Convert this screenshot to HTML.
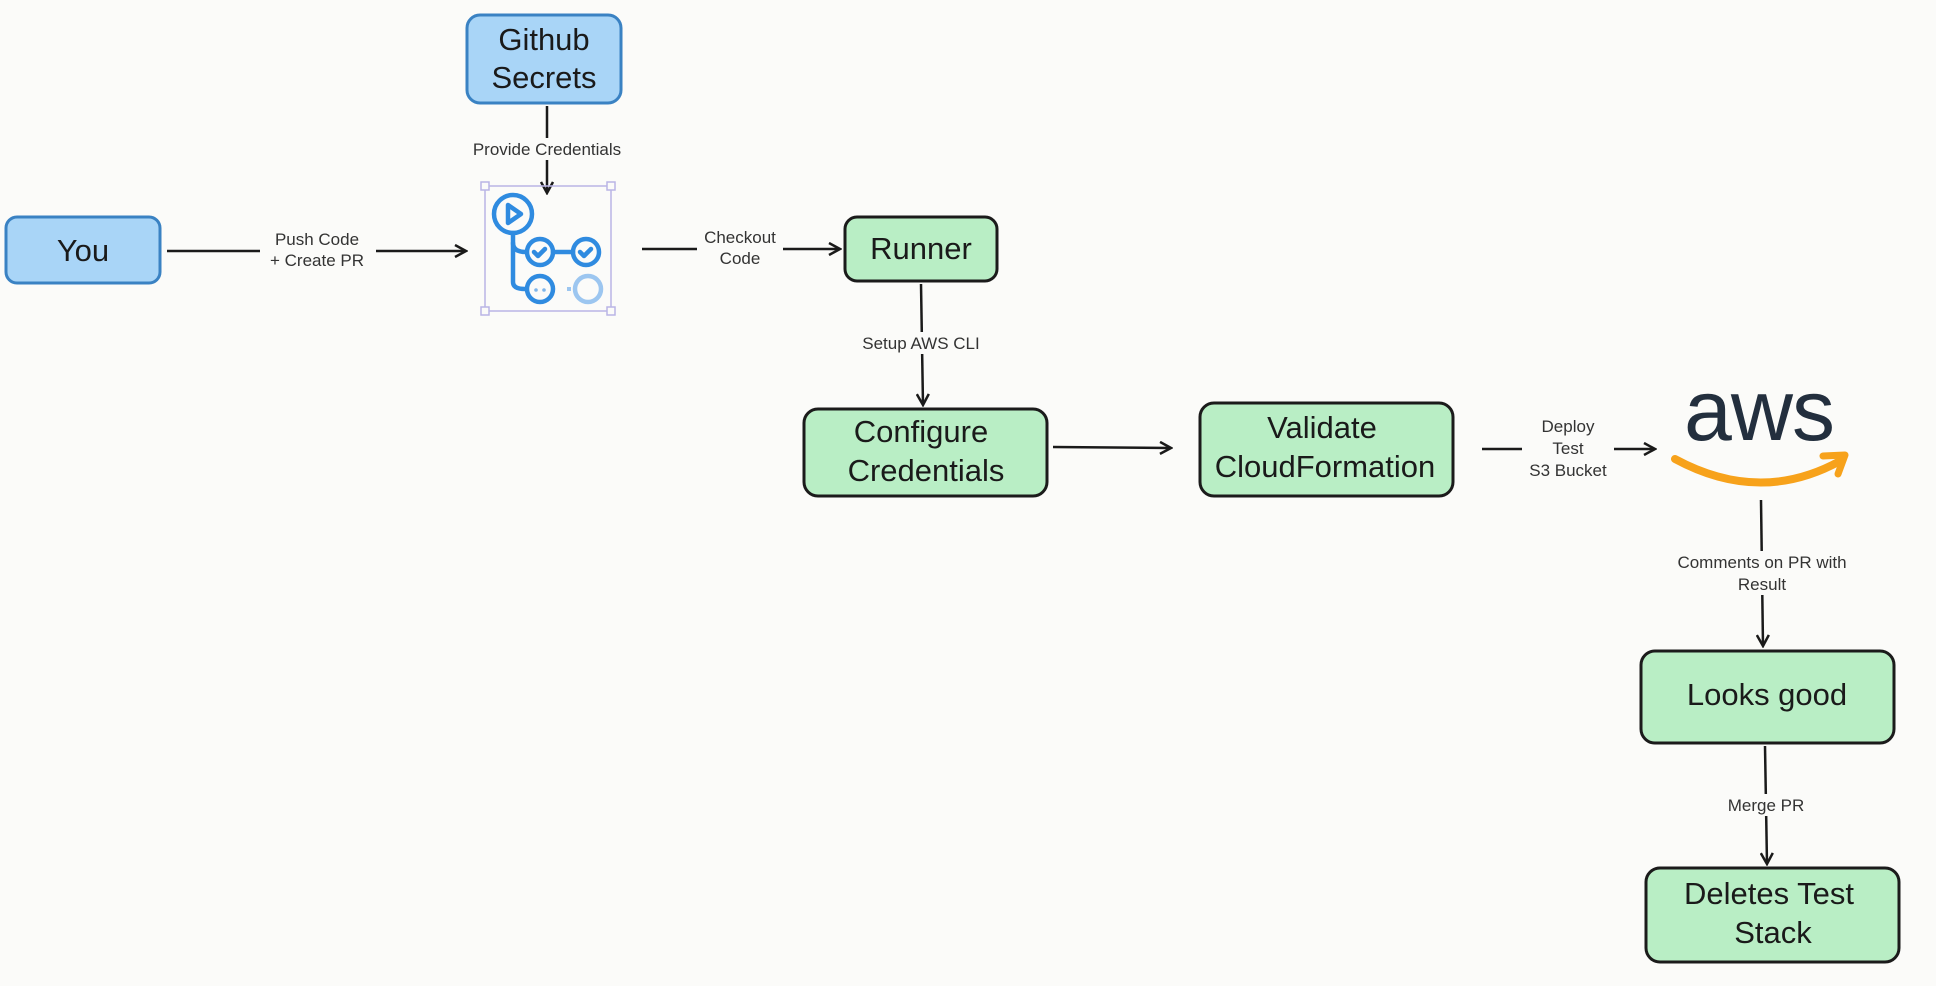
<!DOCTYPE html>
<html><head><meta charset="utf-8"><style>
html,body{margin:0;padding:0;background:#fbfbf9;}
svg{display:block;font-family:"Liberation Sans",Arial,sans-serif;}
.box{stroke-width:3}
.g{fill:#b9eec5;stroke:#1b1b1b}
.b{fill:#a9d5f7;stroke:#3a82c3}
.t{font-size:31px;fill:#1a1a1a;text-anchor:middle}
.l{font-size:17px;fill:#333;text-anchor:middle}
.ln{stroke:#1a1a1a;stroke-width:2.5;fill:none}
.lb{fill:#fbfbf9}
</style></head><body>
<svg width="1936" height="986" viewBox="0 0 1936 986">
<defs><marker id="a" markerWidth="14" markerHeight="14" refX="12" refY="7" orient="auto" markerUnits="userSpaceOnUse"><path d="M1,1 L12,7 L1,13" fill="none" stroke="#1a1a1a" stroke-width="2.5"/></marker></defs>

<!-- connectors -->
<line class="ln" x1="167" y1="251" x2="466" y2="251" marker-end="url(#a)"/>
<rect class="lb" x="260" y="228" width="116" height="44"/>
<text class="l" x="317" y="245">Push Code</text><text class="l" x="317" y="266">+ Create PR</text>

<line class="ln" x1="547" y1="106" x2="547" y2="193" marker-end="url(#a)"/>
<rect class="lb" x="465" y="138" width="164" height="22"/>
<text class="l" x="547" y="155">Provide Credentials</text>

<line class="ln" x1="642" y1="249" x2="840" y2="249" marker-end="url(#a)"/>
<rect class="lb" x="697" y="226" width="86" height="44"/>
<text class="l" x="740" y="243">Checkout</text><text class="l" x="740" y="264">Code</text>

<line class="ln" x1="921" y1="284" x2="923" y2="405" marker-end="url(#a)"/>
<rect class="lb" x="855" y="332" width="132" height="22"/>
<text class="l" x="921" y="349">Setup AWS CLI</text>

<line class="ln" x1="1053" y1="447" x2="1171" y2="448" marker-end="url(#a)"/>

<line class="ln" x1="1482" y1="449" x2="1655" y2="449" marker-end="url(#a)"/>
<rect class="lb" x="1522" y="416" width="92" height="66"/>
<text class="l" x="1568" y="432">Deploy</text><text class="l" x="1568" y="454">Test</text><text class="l" x="1568" y="476">S3 Bucket</text>

<line class="ln" x1="1761" y1="500" x2="1763" y2="646" marker-end="url(#a)"/>
<rect class="lb" x="1664" y="551" width="196" height="44"/>
<text class="l" x="1762" y="568">Comments on PR with</text><text class="l" x="1762" y="590">Result</text>

<line class="ln" x1="1765" y1="746" x2="1767" y2="864" marker-end="url(#a)"/>
<rect class="lb" x="1720" y="794" width="92" height="22"/>
<text class="l" x="1766" y="811">Merge PR</text>

<!-- nodes -->
<rect class="box b" x="6" y="217" width="154" height="66" rx="11"/>
<text class="t" x="83" y="261">You</text>

<rect class="box b" x="467" y="15" width="154" height="88" rx="13"/>
<text class="t" x="544" y="50">Github</text><text class="t" x="544" y="88">Secrets</text>

<rect class="box g" x="845" y="217" width="152" height="64" rx="12"/>
<text class="t" x="921" y="259">Runner</text>

<rect class="box g" x="804" y="409" width="243" height="87" rx="14"/>
<text class="t" x="921" y="442">Configure</text><text class="t" x="926" y="481">Credentials</text>

<rect class="box g" x="1200" y="403" width="253" height="93" rx="14"/>
<text class="t" x="1322" y="438">Validate</text><text class="t" x="1325" y="477">CloudFormation</text>

<rect class="box g" x="1641" y="651" width="253" height="92" rx="14"/>
<text class="t" x="1767" y="705">Looks good</text>

<rect class="box g" x="1646" y="868" width="253" height="94" rx="14"/>
<text class="t" x="1769" y="904">Deletes Test</text><text class="t" x="1773" y="943">Stack</text>

<!-- github actions icon -->
<rect x="485" y="186" width="126" height="125" fill="none" stroke="#b9b5e6" stroke-width="1.5"/>
<g fill="#fbfbf9" stroke="#b9b5e6" stroke-width="1.5">
<rect x="481" y="182" width="8" height="8"/><rect x="607" y="182" width="8" height="8"/>
<rect x="481" y="307" width="8" height="8"/><rect x="607" y="307" width="8" height="8"/></g>
<g fill="none" stroke="#2f8be0" stroke-width="4.5" stroke-linecap="round" stroke-linejoin="round">
<circle cx="513" cy="214" r="19"/>
<path d="M508,205 L521,214 L508,223 Z"/>
<path d="M513,233 L513,282 Q513,289 525,289"/>
<path d="M513,243 Q513,252 526,252"/>
<circle cx="540" cy="252" r="13"/><circle cx="586" cy="252" r="13"/>
<line x1="553" y1="252" x2="573" y2="252"/>
<circle cx="540" cy="289" r="13"/>
<path d="M534,252 l4,4 l7,-7"/><path d="M580,252 l4,4 l7,-7"/>
</g>
<circle cx="536" cy="290" r="1.8" fill="#7fb5ea"/><circle cx="544" cy="290" r="1.8" fill="#7fb5ea"/>
<circle cx="588" cy="289" r="13" fill="none" stroke="#9cc6f0" stroke-width="4.5"/>
<line x1="567" y1="289" x2="571" y2="289" stroke="#9cc6f0" stroke-width="4"/>

<!-- aws logo -->
<text x="1759" y="440" text-anchor="middle" style="font-size:86px;fill:#232f3e;font-family:'Liberation Sans',sans-serif;letter-spacing:-1px">aws</text>
<path d="M1675,459 Q1760,505 1840,461" fill="none" stroke="#f7a21b" stroke-width="8" stroke-linecap="round"/>
<path d="M1823,456 L1845,455 L1838,474" fill="none" stroke="#f7a21b" stroke-width="7" stroke-linecap="round" stroke-linejoin="round"/>
</svg>
</body></html>
